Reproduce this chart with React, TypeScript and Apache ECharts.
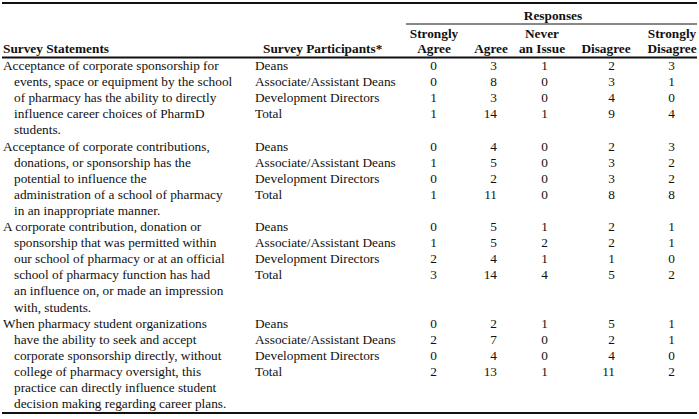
import React, { useEffect, useRef } from "react";
import * as echarts from "echarts";

const statements: string[][] = [
  [
    "Acceptance of corporate sponsorship for",
    "events, space or equipment by the school",
    "of pharmacy has the ability to directly",
    "influence career choices of PharmD",
    "students.",
  ],
  [
    "Acceptance of corporate contributions,",
    "donations, or sponsorship has the",
    "potential to influence the",
    "administration of a school of pharmacy",
    "in an inappropriate manner.",
  ],
  [
    "A corporate contribution, donation or",
    "sponsorship that was permitted within",
    "our school of pharmacy or at an official",
    "school of pharmacy function has had",
    "an influence on, or made an impression",
    "with, students.",
  ],
  [
    "When pharmacy student organizations",
    "have the ability to seek and accept",
    "corporate sponsorship directly, without",
    "college of pharmacy oversight, this",
    "practice can directly influence student",
    "decision making regarding career plans.",
  ],
];

const participants = ["Deans", "Associate/Assistant Deans", "Development Directors", "Total"];

const responseHeaders: string[][] = [
  ["Strongly", "Agree"],
  ["", "Agree"],
  ["Never", "an Issue"],
  ["", "Disagree"],
  ["Strongly", "Disagree"],
];

// rows per statement: Deans, Assoc/Asst Deans, Development Directors, Total
const stronglyAgree = [[0, 0, 1, 1], [0, 1, 0, 1], [0, 1, 2, 3], [0, 2, 0, 2]];
const agree = [[3, 8, 3, 14], [4, 5, 2, 11], [5, 5, 4, 14], [2, 7, 4, 13]];
const neverAnIssue = [[1, 0, 0, 1], [0, 0, 0, 0], [1, 2, 1, 4], [1, 0, 0, 1]];
const disagree = [[2, 3, 4, 9], [2, 3, 3, 8], [2, 2, 1, 5], [5, 2, 4, 11]];
const stronglyDisagree = [[3, 1, 0, 4], [3, 2, 2, 8], [1, 1, 0, 2], [1, 1, 0, 2]];

const FONT = "Liberation Serif";
const FS = 13.3;

export default function App() {
  const ref = useRef<HTMLDivElement>(null);
  useEffect(() => {
    document.body.style.margin = "0";
    const chart = echarts.init(ref.current!, undefined, { renderer: "svg" });
    const els: any[] = [];
    const txt = (x: number, y: number, s: string, align = "left", bold = false) => {
      els.push({
        type: "text",
        x,
        y,
        style: {
          text: s,
          fill: "#111",
          fontFamily: FONT,
          fontSize: FS,
          fontWeight: bold ? "bold" : "normal",
          textAlign: align,
          textVerticalAlign: "middle",
        },
      });
    };
    const line = (x1: number, x2: number, y: number, w: number) => {
      els.push({
        type: "line",
        shape: { x1, y1: y, x2, y2: y },
        style: { stroke: "#111", lineWidth: w },
      });
    };

    // rules
    line(2, 697, 3, 2);
    line(406, 697, 24, 1);
    line(2, 697, 57.5, 2);
    line(2, 697, 413, 2);

    // headers
    txt(553, 15, "Responses", "center", true);
    txt(3, 48, "Survey Statements", "left", true);
    txt(263, 48, "Survey Participants*", "left", true);
    const headCenters = [434, 491, 542, 606, 672];
    responseHeaders.forEach((h, i) => {
      if (h[0]) txt(headCenters[i], 33, h[0], "center", true);
      txt(headCenters[i], 48, h[1], "center", true);
    });

    const cols = [stronglyAgree, agree, neverAnIssue, disagree, stronglyDisagree];
    const colRight = [437, 497, 548, 615, 675];
    const y0 = 65.5;
    const pitch = 16.1;
    let lineIdx = 0;
    statements.forEach((st, b) => {
      st.forEach((s, j) => {
        txt(j === 0 ? 3 : 14, y0 + (lineIdx + j) * pitch, s);
      });
      participants.forEach((p, r) => {
        const y = y0 + (lineIdx + r) * pitch;
        txt(255, y, p);
        cols.forEach((c, ci) => txt(colRight[ci], y, String(c[b][r]), "right"));
      });
      lineIdx += st.length;
    });

    chart.setOption({
      animation: false,
      backgroundColor: "#fff",
      graphic: els,
    });
    return () => chart.dispose();
  }, []);
  return (
    <div
      ref={ref}
      style={{ position: "absolute", left: 0, top: 0, width: 699, height: 419 }}
    />
  );
}
